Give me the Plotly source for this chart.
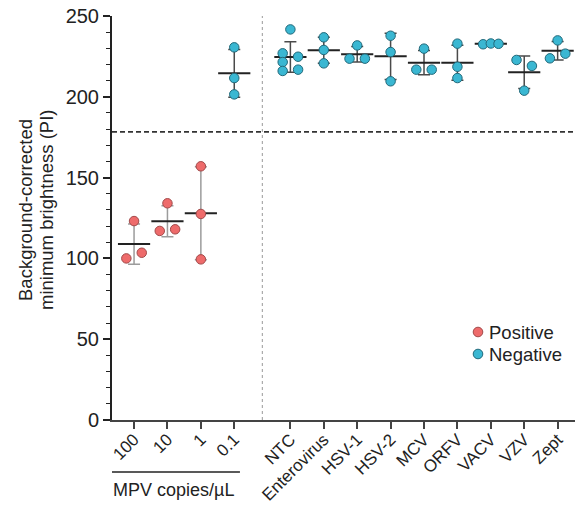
import numpy as np
import plotly.graph_objects as go

# ---- data -------------------------------------------------------------
mpv_labels = ["100", "10", "1", "0.1"]
mpv_values = [
    [123.1, 100.0, 103.5],
    [134.1, 117.0, 118.0],
    [157.0, 127.5, 99.4],
    [230.6, 211.6, 201.5],
]
mpv_calls = ["Positive", "Positive", "Positive", "Negative"]

ctrl_labels = ["NTC", "Enterovirus", "HSV-1", "HSV-2", "MCV", "ORFV", "VACV", "VZV", "Zept"]
ctrl_values = [
    [241.7, 226.9, 224.8, 221.5, 216.0, 216.8],
    [236.8, 229.0, 220.7],
    [231.8, 223.6, 223.6],
    [237.8, 227.7, 209.6],
    [229.8, 216.8, 216.8],
    [232.9, 218.6, 211.6],
    [232.5, 233.0, 232.8],
    [222.8, 219.1, 203.8],
    [234.9, 223.8, 226.7],
]
ctrl_calls = ["Negative"] * len(ctrl_labels)

cutoff = 178.3
y_ticks = [0, 50, 100, 150, 200, 250]

# ---- layout geometry ----------------------------------------------------
W, H = 575, 505
M_L, M_R, M_T, M_B = 112, 0, 16, 85
plot_w, plot_h = W - M_L - M_R, H - M_T - M_B
x_range = [-0.66, 13.2]
y_range = [0, 250]
x_px = plot_w / (x_range[1] - x_range[0])
y_px = plot_h / (y_range[1] - y_range[0])

group_gap = 1.68
mpv_pos = list(range(len(mpv_labels)))
ctrl_pos = [mpv_pos[-1] + group_gap + i for i in range(len(ctrl_labels))]
divider_x = (mpv_pos[-1] + ctrl_pos[0]) / 2

labels = mpv_labels + ctrl_labels
values = mpv_values + ctrl_values
calls = mpv_calls + ctrl_calls
positions = mpv_pos + ctrl_pos

fill = {"Positive": "#EE6B6B", "Negative": "#3AB7D2"}
edge = {"Positive": "#A24A4A", "Negative": "#22697A"}
bar_col = {"Positive": "#9C9C9C", "Negative": "#4A4A4A"}


def lane_offsets(vals, step_px=7.7, join_px=7.1, clash_px=8.0):
    """Scatter-dot layout: nearby replicates are pushed sideways into lanes."""
    n = len(vals)
    order = sorted(range(n), key=lambda i: vals[i])
    clusters, cur = [], [order[0]]
    for i in order[1:]:
        if (vals[i] - vals[cur[-1]]) * y_px < join_px:
            cur.append(i)
        else:
            clusters.append(cur)
            cur = [i]
    clusters.append(cur)
    off = [0.0] * n
    for c in clusters:
        if len(c) == 1:
            continue
        c = sorted(c)
        signs = [-1 if k % 2 == 0 else 1 for k in range(len(c))]
        ok = all(
            not (signs[p] == signs[q] and abs(vals[c[p]] - vals[c[q]]) * y_px < clash_px)
            for p in range(len(c)) for q in range(p + 1, len(c))
        )
        for k, i in enumerate(c):
            off[i] = signs[k] * step_px if ok else (k - (len(c) - 1) / 2) * step_px
    return [o / x_px for o in off]


def px_x(px):
    return (px - M_L) / plot_w


def px_y(py):
    return (H - M_B - py) / plot_h


fig = go.Figure()

# mean +/- SD
for pos, vals, call in zip(positions, values, calls):
    arr = np.array(vals)
    fig.add_trace(go.Scatter(
        x=[pos], y=[arr.mean()], mode="markers", showlegend=False, hoverinfo="skip",
        marker=dict(symbol="line-ew", size=23, color="#222",
                    line=dict(width=2, color="#222")),
        error_y=dict(type="data", array=[arr.std(ddof=1)], visible=True,
                     color=bar_col[call], thickness=1.5, width=6),
    ))

# replicate points
for pos, vals, call in zip(positions, values, calls):
    offs = lane_offsets(vals)
    fig.add_trace(go.Scatter(
        x=[pos + o for o in offs], y=vals, mode="markers", showlegend=False,
        marker=dict(size=9.5, color=fill[call], line=dict(width=1, color=edge[call])),
    ))

shapes = [
    dict(type="line", xref="paper", yref="y", x0=0, x1=1, y0=cutoff, y1=cutoff,
         line=dict(color="#333", width=1.6, dash="5px,3px")),
    dict(type="line", xref="x", yref="y", x0=divider_x, x1=divider_x, y0=0, y1=250,
         line=dict(color="#9A9A9A", width=1, dash="dot")),
    dict(type="line", xref="x", yref="paper", x0=-0.84, x1=3.17,
         y0=px_y(472), y1=px_y(472), line=dict(color="#222", width=1.5)),
]

annotations = [
    dict(text="MPV copies/µL", xref="x", yref="paper", x=1.17, y=px_y(490),
         showarrow=False, font=dict(size=18, color="#222"), xanchor="center", yanchor="middle"),
]
for line_txt, cx in [("Background-corrected", 25), ("minimum brightness (PI)", 46)]:
    annotations.append(dict(text=line_txt, textangle=-90, xref="paper", yref="paper",
                            x=px_x(cx), y=px_y(210), showarrow=False,
                            font=dict(size=18.5, color="#222"),
                            xanchor="center", yanchor="middle"))

# legend
leg_x, leg_y0, leg_dy = 478, 332, 22
for k, call in enumerate(["Positive", "Negative"]):
    cy = leg_y0 + k * leg_dy
    shapes.append(dict(type="circle", xref="paper", yref="paper",
                       x0=px_x(leg_x - 4.8), x1=px_x(leg_x + 4.8),
                       y0=px_y(cy + 4.8), y1=px_y(cy - 4.8),
                       fillcolor=fill[call], line=dict(color=edge[call], width=1)))
    annotations.append(dict(text=call, xref="paper", yref="paper",
                            x=px_x(leg_x + 9), y=px_y(cy),
                            xanchor="left", yanchor="middle", showarrow=False,
                            font=dict(size=18.5, color="#222")))

fig.update_layout(
    width=W, height=H, margin=dict(l=M_L, r=M_R, t=M_T, b=M_B, pad=0, autoexpand=False),
    paper_bgcolor="white", plot_bgcolor="white",
    font=dict(family="Liberation Sans, Arial, sans-serif", color="#222"),
    shapes=shapes, annotations=annotations, showlegend=False,
    xaxis=dict(range=x_range, tickvals=positions, ticktext=labels, tickangle=-45,
               automargin=False, ticklabelstandoff=-6,
               showgrid=False, zeroline=False, showline=True, linecolor="#444", linewidth=2,
               ticks="outside", ticklen=7, tickwidth=1.5, tickcolor="#444",
               tickfont=dict(size=17, color="#222")),
    yaxis=dict(range=y_range, tickvals=y_ticks, showgrid=False, zeroline=False,
               automargin=False,
               showline=True, linecolor="#222", linewidth=2,
               ticks="outside", ticklen=7, tickwidth=1.5, tickcolor="#222",
               minor=dict(dtick=10, ticks="outside", ticklen=4, tickwidth=1.2, tickcolor="#222"),
               tickfont=dict(size=20, color="#222")),
)

fig.write_html("out.html")
